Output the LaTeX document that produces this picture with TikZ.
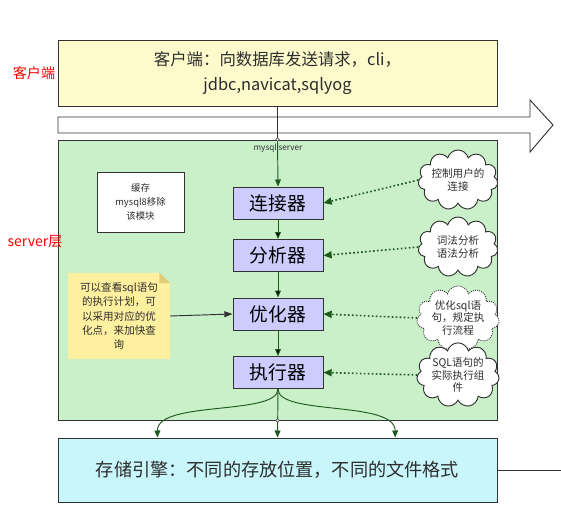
\documentclass[tikz,border=0pt]{standalone}
\usepackage{fontspec}
\setmainfont{Noto Sans CJK SC}
\usetikzlibrary{shapes.symbols,arrows.meta}

\definecolor{clientfill}{RGB}{253,251,204}
\definecolor{serverfill}{RGB}{202,240,202}
\definecolor{partfill}{RGB}{204,204,255}
\definecolor{storefill}{RGB}{200,246,251}
\definecolor{notefill}{RGB}{255,240,160}
\definecolor{notefold}{RGB}{225,205,120}
\definecolor{flowgreen}{RGB}{30,90,30}
\definecolor{edgegray}{RGB}{50,50,50}
\definecolor{textgray}{RGB}{45,45,45}

\tikzset{
  every node/.append style={text=textgray},
  bigbox/.style={draw=edgegray, thick, minimum width=13.17cm},
  partbox/.style={draw=edgegray, thick, fill=partfill, minimum width=2.7cm, minimum height=0.96cm, font=\fontsize{16}{18}\selectfont},
  thought/.style={cloud, cloud puffs=11, cloud ignores aspect, draw=edgegray, thick, fill=white, minimum width=2.4cm, minimum height=1.8cm, inner sep=0pt, align=center, font=\fontsize{9}{11}\selectfont},
  notebox/.style={fill=notefill, minimum width=3.06cm, minimum height=2.6cm, align=center, font=\fontsize{9}{12}\selectfont,
    path picture={
      \fill[serverfill] ([xshift=-9pt]path picture bounding box.north east) -- (path picture bounding box.north east) -- ([yshift=-9pt]path picture bounding box.north east) -- cycle;
      \fill[notefold] ([xshift=-9pt]path picture bounding box.north east) -- ([yshift=-9pt]path picture bounding box.north east) -- ([xshift=-9pt,yshift=-9pt]path picture bounding box.north east) -- cycle;}},
  flow/.style={draw=flowgreen, thick, -{Triangle[length=6pt,width=5pt]}},
  dotflow/.style={draw=flowgreen, line width=1.4pt, dotted, -{Triangle[length=7pt,width=6pt]}},
  sidelabel/.style={text=red, font=\fontsize{12}{14}\selectfont}
}

\begin{document}
\begin{tikzpicture}[x=0.03cm,y=-0.03cm]
\useasboundingbox (0,0) rectangle (561,510);

% client, request arrow, server
\node[bigbox, fill=clientfill, minimum height=1.98cm, align=center, font=\fontsize{14}{21}\selectfont] (client) at (277.5,73)
  {客户端：向数据库发送请求，cli，\\jdbc,navicat,sqlyog};
\draw[thick, draw=edgegray, fill=white] (58,117) -- (530,117) -- (530,100) -- (553,125) -- (530,152) -- (530,133) -- (58,133) -- cycle;
\node[bigbox, fill=serverfill, minimum height=8.4cm] (server) at (277.5,280) {};
\node[bigbox, fill=storefill, minimum height=1.92cm, font=\fontsize{15.5}{18}\selectfont] (store) at (277.5,470)
  {存储引擎：不同的存放位置，不同的文件格式};

\node[sidelabel] (clientlbl) at (34,73) {客户端};
\node[sidelabel] (serverlbl) at (35,242) {server层};

% parts of the server
\begin{scope}[every node/.style={partbox}]
\node (conn) at (278,203) {连接器};
\node (parse) at (278,255.5) {分析器};
\node (opt) at (278,314) {优化器};
\node (exec) at (278,372.5) {执行器};
\end{scope}

\node[draw=edgegray, thick, fill=white, minimum width=2.61cm, minimum height=1.8cm, align=center, font=\fontsize{8}{12}\selectfont] (cache) at (140.5,202)
  {缓存\\mysql8移除\\该模块};
\node[notebox] (note) at (119,316)
  {可以查看sql语句\\的执行计划，可\\以采用对应的优\\化点，来加快查\\询};

\node[thought] (c1) at (458,180) {控制用户的\\连接};
\node[thought] (c2) at (458,247) {词法分析\\语法分析};
\node[thought, densely dotted] (c3) at (458,318) {优化sql语\\句，规定执\\行流程};
\node[thought] (c4) at (458,375) {SQL语句的\\实际执行组\\件};

% connectors
\draw[thick, draw=edgegray] (client.south) -- (server.north);
\draw[flow] (server.north) -- (conn.north);
\node[font=\fontsize{7}{8}\selectfont] (srvname) at (278,148) {mysql server};
\draw[flow] (conn) edge (parse);
\draw[flow] (parse) edge (opt);
\draw[flow] (opt) edge (exec);
\draw[thick, draw=edgegray, -{Triangle[length=7pt,width=5pt]}] (note.east) -- (opt.west);

\draw[dotflow] (c1.west) -- (conn.east);
\draw[dotflow] (c2.west) -- (parse.east);
\draw[dotflow] (c3.west) -- (opt.east);
\draw[dotflow] (c4.west) -- (exec.east);

\draw[flow] (exec.south) -- (store.north);
\draw[flow] (exec.south) .. controls (278,416) and (157,400) .. ([xshift=-3.6cm]store.north);
\draw[flow] (exec.south) .. controls (278,416) and (395,400) .. ([xshift=3.53cm]store.north);
\draw[fill=white, draw=edgegray] (server.north) circle (1.5pt);
\draw[fill=white, draw=edgegray] (server.south) circle (1.5pt);

\coordinate (rightend) at (561,470);
\draw[thick, draw=edgegray] (store.east) -- (rightend);
\end{tikzpicture}
\end{document}
